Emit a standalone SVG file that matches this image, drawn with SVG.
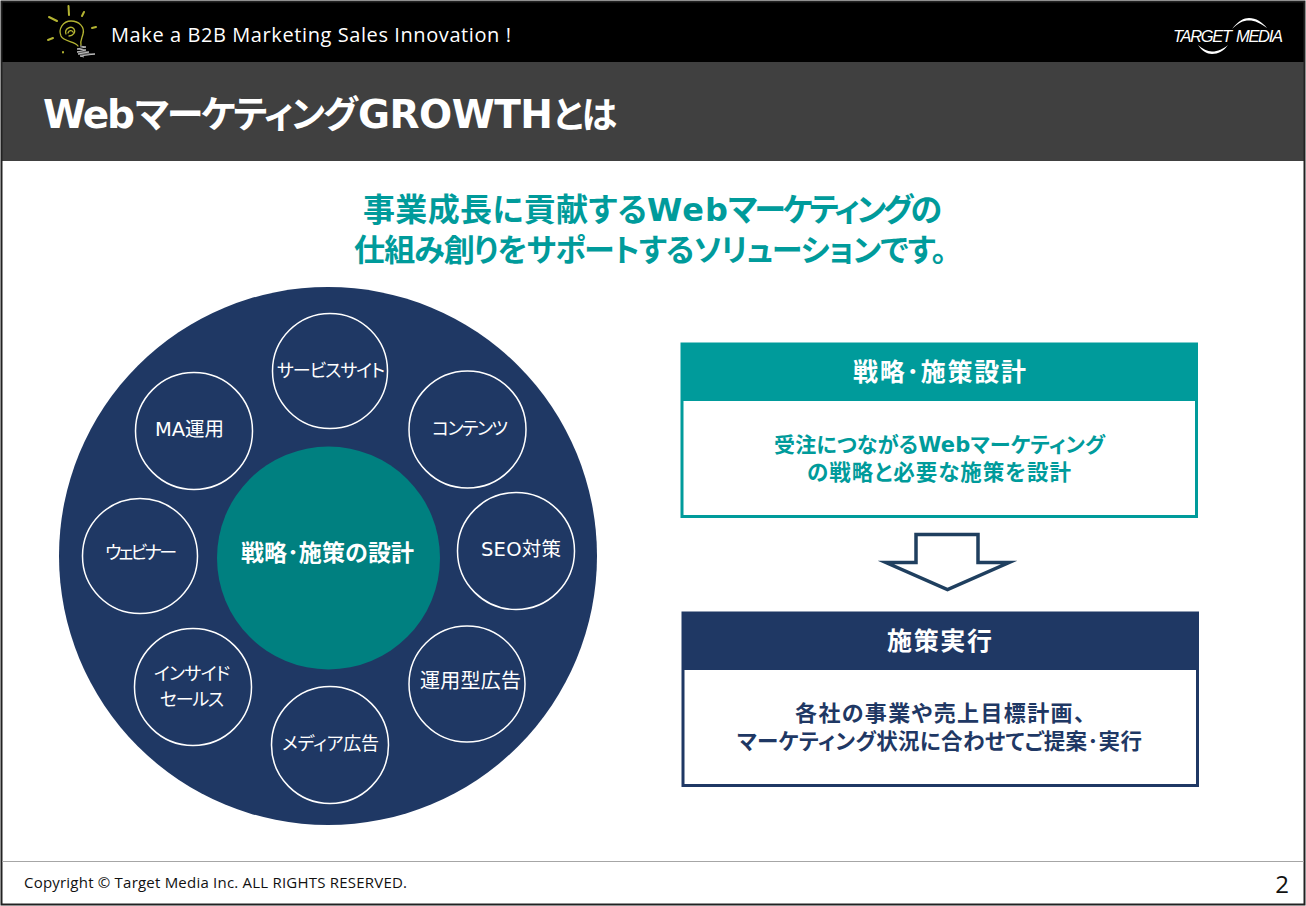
<svg xmlns="http://www.w3.org/2000/svg" width="1306" height="906" viewBox="0 0 1306 906">
<style>
text{font-family:"DejaVu Sans","Noto Sans CJK JP",sans-serif;text-anchor:middle;font-feature-settings:"palt"}
.sm{fill:#fff;font-size:18px}
.ring{fill:none;stroke:#fff;stroke-width:1.5}
.teal{fill:#009b9b;font-weight:700}
.navy{fill:#1f3864;font-weight:700}
.hd{fill:#fff;font-weight:700;font-size:25px}
.y{stroke:#b4b432;stroke-width:2;fill:none;stroke-linecap:round}
.y2{stroke:#b4b432;stroke-width:1.300;fill:none;stroke-linecap:round}
.w{stroke:#ccc;stroke-width:.9;fill:none}
.s{text-anchor:start}
</style>
<rect x="0" y="0" width="1306" height="906" fill="#fff"/>
<g id="header">
<rect x="2" y="2" width="1302" height="60" fill="#000"/>
<rect x="2" y="62" width="1302" height="99" fill="#404040"/>
<text x="311" y="42" fill="#fff" textLength="400" style="font-family:'Open Sans','Noto Sans',sans-serif;font-size:20px">Make a B2B Marketing Sales Innovation !</text>
<text class="s" y="128" fill="#fff" font-weight="700" font-size="39"><tspan x="43" textLength="92">Web</tspan><tspan x="135" font-size="37" textLength="223">マーケティング</tspan><tspan x="358" textLength="195">GROWTH</tspan><tspan x="553" font-size="36" textLength="64">とは</tspan></text>
</g>
<g id="bulb">
<path class="y" d="M68.500 6l.5 9M84 12l-2 4M49 17l8 4M96 27l-4 1M48 40l5-2M63 52v.5"/>
<path class="y2" d="M78 46c-3-5-14-4-17-10c-3-7 2-15 10-15c8 0 14 6 12 13c-1 4-3 7-2 11M66 34c-2-5 5-9 8-5c2 3-1 7-5 7M68 33c1-3 4-3 5-1"/>
<path class="w" d="M80 46l6 1l-9 2l9 1l-9 2l12 0l-11 2l17 0l-15 2l4 1"/>
</g>
<g id="logo">
<text class="s" x="1173" y="42" fill="#fff" font-size="16.500" font-style="italic" textLength="59" style="font-family:'Liberation Sans',sans-serif;text-anchor:start">TARGET</text>
<text class="s" x="1236" y="42" fill="#fff" font-size="16.500" font-style="italic" textLength="47" style="font-family:'Liberation Sans',sans-serif;text-anchor:start">MEDIA</text>
<path d="M1232 29C1238 21 1244 18 1249 18C1256 18 1262 22 1267 28C1260 23 1255 20.500 1249 20.500C1243 20.500 1238 23 1232 29Z" fill="#fff"/>
<path d="M1198 45C1202 51 1207 54 1212 54C1218 54 1224 51 1228 45C1223 49 1218 51.500 1212 51.500C1207 51.500 1203 49 1198 45Z" fill="#fff"/>
</g>
<g id="frame">
<rect x="1.500" y="1.500" width="1303" height="903" fill="none" stroke="#222" stroke-width="2"/>
<line x1="2" y1="861.500" x2="1304" y2="861.500" stroke="#a6a6a6"/>
<text x="215.500" y="888" fill="#111" textLength="383" style="font-family:'Open Sans','Noto Sans',sans-serif;font-size:15px">Copyright © Target Media Inc. ALL RIGHTS RESERVED.</text>
<text x="1282" y="893" fill="#111" style="font-family:'Open Sans','Noto Sans',sans-serif;font-size:24px">2</text>
</g>
<g id="headline">
<text class="teal s" y="221" font-size="32"><tspan x="363" textLength="284">事業成長に貢献する</tspan><tspan x="647" textLength="81">Web</tspan><tspan x="728" textLength="214">マーケティングの</tspan></text>
<text x="650.500" y="261" class="teal" font-size="31" textLength="593">仕組み創りをサポートするソリューションです。</text>
</g>
<g id="big-circle"><circle cx="328" cy="556" r="269" fill="#1f3864"/></g>
<g id="center"><circle cx="328.500" cy="558" r="111.500" fill="#008080"/><text x="327.500" y="561" fill="#fff" font-weight="700" font-size="23" textLength="173">戦略･施策の設計</text></g>
<g id="n1"><circle class="ring" cx="330" cy="371" r="57.500"/><text class="sm" x="331" y="377" textLength="108">サービスサイト</text></g>
<g id="n2"><circle class="ring" cx="467.500" cy="429.500" r="58.500"/><text class="sm" x="470" y="435" textLength="76">コンテンツ</text></g>
<g id="n3"><circle class="ring" cx="516" cy="551" r="58.500"/><text class="sm" x="521" y="556" font-size="19" style="font-size:19.500px" textLength="80">SEO対策</text></g>
<g id="n4"><circle class="ring" cx="467" cy="684" r="58"/><text class="sm" x="470.500" y="688" style="font-size:20px" textLength="101">運用型広告</text></g>
<g id="n5"><circle class="ring" cx="330" cy="745" r="58.500"/><text class="sm" x="330.500" y="750" textLength="97">メディア広告</text></g>
<g id="n6"><circle class="ring" cx="193" cy="687" r="58.500"/><text class="sm" x="192" y="680" textLength="76">インサイド</text><text class="sm" x="192" y="706" textLength="64">セールス</text></g>
<g id="n7"><circle class="ring" cx="140" cy="556" r="57.500"/><text class="sm" x="141" y="559" textLength="72">ウェビナー</text></g>
<g id="n8"><circle class="ring" cx="194" cy="431" r="58.500"/><text class="sm" x="189.500" y="436" style="font-size:19.500px" textLength="69">MA運用</text></g>
<g id="box1">
<rect x="682" y="344" width="514.500" height="172.500" fill="#fff" stroke="#009b9b" stroke-width="3"/>
<rect x="681" y="343" width="517" height="58" fill="#009b9b"/>
<text class="hd" x="939.500" y="381" textLength="173">戦略･施策設計</text>
<text x="939.500" y="452" class="teal" font-size="21" textLength="331">受注につながるWebマーケティング</text>
<text x="939" y="480" class="teal" font-size="21.500" textLength="264">の戦略と必要な施策を設計</text>
</g>
<g id="connectors"><path d="M916 534.500H978V562.500H1009L947.500 589.500L886 562.500H916Z" fill="#fff" stroke="#1f3f5f" stroke-width="3.500" stroke-miterlimit="12"/></g>
<g id="box2">
<rect x="683" y="613" width="514.500" height="172.500" fill="#fff" stroke="#1f3864" stroke-width="3"/>
<rect x="682" y="612" width="517" height="58" fill="#1f3864"/>
<text class="hd" x="939.500" y="650" textLength="105">施策実行</text>
<text x="940" y="721" class="navy" font-size="22" textLength="290">各社の事業や売上目標計画、</text>
<text x="939.500" y="749" class="navy" font-size="21.500" textLength="405">マーケティング状況に合わせてご提案･実行</text>
</g>
</svg>
